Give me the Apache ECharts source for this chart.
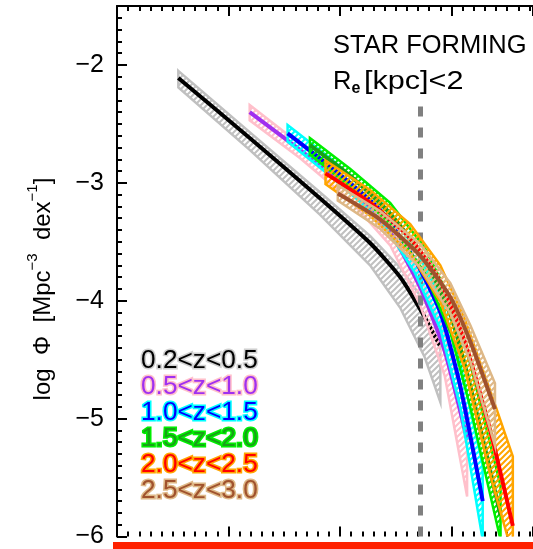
<!DOCTYPE html>
<html>
<head>
<meta charset="utf-8">
<script src="https://cdn.jsdelivr.net/npm/echarts@6/dist/echarts.min.js"></script>
<style>
  html, body { margin: 0; padding: 0; background: #fff; }
  #chart { width: 533px; height: 549px; }
</style>
</head>
<body>
<div id="chart"></div>
<script>
// Stellar mass functions of compact (Re < 2 kpc) star-forming galaxies per redshift bin.
// Each bin: central estimate plus an upper/lower uncertainty envelope (log Phi).
const zBins = ['0.2<z<0.5', '0.5<z<1.0', '1.0<z<1.5', '1.5<z<2.0', '2.0<z<2.5', '2.5<z<3.0'];

const mass0 = [8.55, 9.19, 9.82, 10.27, 10.54, 10.76, 10.90];
const phi0  = [-2.11, -2.62, -3.13, -3.51, -3.80, -4.14, -4.39];
const hi0   = [-2.05, -2.57, -3.08, -3.45, -3.72, -4.01, -4.22];
const lo0   = [-2.19, -2.72, -3.27, -3.70, -4.06, -4.48, -4.86];

const mass1 = [9.19, 9.64, 10.09, 10.45, 10.72, 10.94, 11.14];
const phi1  = [-2.40, -2.72, -3.06, -3.42, -3.89, -4.43, -5.18];
const hi1   = [-2.34, -2.67, -3.01, -3.36, -3.80, -4.29, -4.94];
const lo1   = [-2.47, -2.79, -3.15, -3.53, -4.04, -4.64, -5.66];

const mass2 = [9.53, 9.91, 10.36, 10.67, 10.90, 11.08, 11.28];
const phi2  = [-2.58, -2.86, -3.23, -3.65, -4.10, -4.73, -5.70];
const hi2   = [-2.51, -2.79, -3.15, -3.55, -3.97, -4.54, -5.40];
const lo2   = [-2.65, -2.94, -3.31, -3.76, -4.24, -4.91, -6.03];

const mass3 = [9.73, 10.09, 10.45, 10.76, 10.99, 11.17, 11.44];
const phi3  = [-2.68, -2.94, -3.26, -3.65, -4.12, -4.73, -5.82];
const hi3   = [-2.62, -2.88, -3.17, -3.55, -3.99, -4.54, -5.57];
const lo3   = [-2.76, -3.03, -3.35, -3.76, -4.27, -4.91, -6.03];

const mass4 = [9.87, 10.27, 10.63, 10.90, 11.12, 11.35, 11.55];
const phi4  = [-2.92, -3.17, -3.47, -3.84, -4.35, -5.11, -5.91];
const hi4   = [-2.81, -3.06, -3.35, -3.70, -4.16, -4.77, -5.32];
const lo4   = [-3.01, -3.28, -3.60, -4.01, -4.58, -5.49, -6.16];

const mass5 = [9.98, 10.36, 10.72, 10.99, 11.17, 11.39];
const phi5  = [-3.09, -3.31, -3.62, -3.97, -4.35, -4.92];
const hi5   = [-3.02, -3.24, -3.52, -3.85, -4.21, -4.70];
const lo5   = [-3.15, -3.39, -3.72, -4.11, -4.52, -5.23];

const lineColors = ['#000000', '#a030f0', '#0000ff', '#18a018', '#ff0000', '#a0522d'];
const bandColors = ['#c0c0c0', '#ffc0cb', '#00ffff', '#00ee00', '#ffa500', '#deb887'];
const labelGlow  = ['#d0d0d0', '#ffc0cb', '#00ffff', '#00ee00', '#ffa500', '#deb887'];

const yTicks = [-6, -5, -4, -3, -2];
const massCut = 10.72;
const cutTop = -2.35;

const sets = [
  [mass0, phi0, hi0, lo0],
  [mass1, phi1, hi1, lo1],
  [mass2, phi2, hi2, lo2],
  [mass3, phi3, hi3, lo3],
  [mass4, phi4, hi4, lo4],
  [mass5, phi5, hi5, lo5]
];

// diagonal line-fill used inside each envelope
function hatch(color) {
  const c = document.createElement('canvas');
  c.width = 6; c.height = 6;
  const g = c.getContext('2d');
  g.strokeStyle = color;
  g.lineWidth = 2;
  g.beginPath();
  g.moveTo(-1, 7); g.lineTo(7, -1);
  g.moveTo(-4, 4); g.lineTo(4, -4);
  g.moveTo(2, 10); g.lineTo(10, 2);
  g.stroke();
  return c;
}

const chart = echarts.init(document.getElementById('chart'), null, { renderer: 'canvas' });

const series = [];
sets.forEach((s, i) => {
  const [m, p, h, l] = s;
  const poly = [];
  m.forEach((x, k) => poly.push([x, h[k]]));
  for (let k = m.length - 1; k >= 0; k--) poly.push([m[k], l[k]]);
  const pat = hatch(bandColors[i]);
  series.push({
    type: 'custom',
    name: zBins[i] + ' envelope',
    coordinateSystem: 'cartesian2d',
    data: [0],
    z: 2 + 2 * i,
    clip: true,
    renderItem: function (params, api) {
      const pts = poly.map(q => api.coord(q));
      return {
        type: 'polygon',
        shape: { points: pts },
        style: { fill: { image: pat, repeat: 'repeat' }, stroke: bandColors[i], lineWidth: 2.5 }
      };
    }
  });
  series.push({
    type: 'line',
    name: zBins[i],
    data: m.map((x, k) => [x, p[k]]),
    symbol: 'none',
    smooth: 0.2,
    z: 3 + 2 * i,
    lineStyle: { color: lineColors[i], width: 4 }
  });
});

// vertical mass limit
series.push({
  type: 'line',
  data: [],
  z: 30,
  markLine: {
    silent: true,
    symbol: 'none',
    label: { show: false },
    lineStyle: { color: '#808080', type: [10, 11], width: 5 },
    data: [[{ coord: [massCut, -6] }, { coord: [massCut, cutTop] }]]
  }
});

const X_MIN = 8, X_MAX = 11.731;

const xAxisBase = {
  type: 'value',
  min: X_MIN, max: X_MAX,
  axisLabel: { show: false },
  splitLine: { show: false }
};

chart.setOption({
  animation: false,
  grid: { left: 117, top: 6, right: 0, height: 535 },
  xAxis: [
    // minor ticks every 0.1
    Object.assign({}, xAxisBase, {
      position: 'bottom', interval: 0.1,
      axisLine: { show: false },
      axisTick: { show: true, inside: true, length: 5, lineStyle: { color: '#000', width: 2 } }
    }),
    Object.assign({}, xAxisBase, {
      position: 'top', interval: 0.1,
      axisLine: { show: true, lineStyle: { color: '#000', width: 2 } },
      axisTick: { show: true, inside: true, length: 5, lineStyle: { color: '#000', width: 2 } }
    }),
    // major ticks every 1
    Object.assign({}, xAxisBase, {
      position: 'bottom', interval: 1,
      axisLine: { show: false },
      axisTick: { show: true, inside: true, length: 10, lineStyle: { color: '#000', width: 2 } }
    }),
    Object.assign({}, xAxisBase, {
      position: 'top', interval: 1,
      axisLine: { show: false },
      axisTick: { show: true, inside: true, length: 10, lineStyle: { color: '#000', width: 2 } }
    })
  ],
  yAxis: [{
    type: 'value',
    min: -6, max: -1.5, interval: 1,
    axisLine: { show: true, lineStyle: { color: '#000', width: 2 } },
    axisTick: { show: true, inside: true, length: 10, lineStyle: { color: '#000', width: 2 } },
    minorTick: { show: true, splitNumber: 10, length: 5, lineStyle: { color: '#000', width: 2 } },
    splitLine: { show: false },
    axisLabel: {
      margin: 13,
      fontFamily: 'Liberation Sans',
      fontSize: 25,
      color: '#000',
      formatter: v => (yTicks.indexOf(v) >= 0 ? '\u2212' + Math.abs(v) : '')
    }
  }],
  series: series,
  graphic: [
    { type: 'rect', shape: { x: 113, y: 542, width: 420, height: 7 }, style: { fill: '#ff2200' }, z: 100 },
    {
      type: 'text', x: 40, y: 289, rotation: Math.PI / 2, z: 100,
      style: {
        text: '{n|log  \u03a6  [Mpc}{s|\u22123}{n|  dex}{s|\u22121}{n|]}',
        align: 'center', verticalAlign: 'middle',
        rich: {
          n: { fontFamily: 'Liberation Sans', fontSize: 24, fill: '#000', lineHeight: 30, verticalAlign: 'bottom' },
          s: { fontFamily: 'Liberation Sans', fontSize: 15, fill: '#000', lineHeight: 30, verticalAlign: 'top' }
        }
      }
    },
    { type: 'text', x: 333, y: 46, z: 100, style: { text: 'STAR FORMING', fontFamily: 'Liberation Sans', fontSize: 25.5, fill: '#000', verticalAlign: 'middle' } },
    {
      type: 'text', x: 333, y: 82, z: 100,
      style: {
        text: '{r|R}{e|e}',
        verticalAlign: 'middle',
        rich: {
          r: { fontFamily: 'Liberation Sans', fontSize: 25.5, fill: '#000', lineHeight: 30, verticalAlign: 'middle' },
          e: { fontFamily: 'Liberation Sans', fontSize: 16, fontWeight: 'bold', fill: '#000', lineHeight: 30, verticalAlign: 'bottom' }
        }
      }
    },
    { type: 'text', x: 364, y: 82, z: 100, scaleX: 1.2, style: { text: '[kpc]<2', fontFamily: 'Liberation Sans', fontSize: 25.5, fill: '#000', verticalAlign: 'middle' } }
  ].concat(zBins.map((t, i) => ({
    type: 'text', x: 141, y: 361 + i * 26, z: 100, scaleX: 1.05,
    style: {
      text: t, fontFamily: 'Liberation Sans', fontSize: 25, verticalAlign: 'middle',
      fill: lineColors[i], stroke: labelGlow[i], lineWidth: 3
    }
  })))
});
</script>
</body>
</html>
